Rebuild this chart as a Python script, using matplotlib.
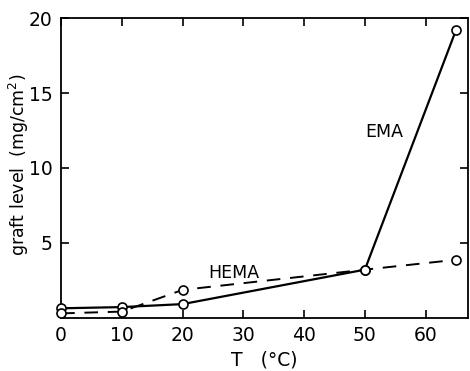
import matplotlib
matplotlib.use("Agg")
import matplotlib.pyplot as plt

# data
temp = [0, 10, 20, 50, 65]
ema = [0.62, 0.7, 0.9, 3.2, 19.2]
hema = [0.28, 0.4, 1.85, 3.2, 3.86]

x_ticks = [0, 10, 20, 30, 40, 50, 60]
y_ticks = [5, 10, 15, 20]

plt.rcParams['font.family'] = ['DejaVu Sans']

fig = plt.figure(figsize=(4.7, 3.71), dpi=100)
ax = fig.add_axes([0.13, 0.144, 0.866, 0.807])

ax.plot(temp, ema, color='black', lw=1.6, marker='o', ms=6.5,
        mfc='white', mec='black', mew=1.2, clip_on=False, zorder=3)
ax.plot(temp, hema, color='black', lw=1.4, ls=(0, (7, 5)), marker='o', ms=6.5,
        mfc='white', mec='black', mew=1.2, clip_on=False, zorder=3)

ax.text(53.2, 12.4, 'EMA', fontsize=12.5, ha='center', va='center')
ax.text(28.4, 3.0, 'HEMA', fontsize=12.5, ha='center', va='center')

ax.set_xlim(0, 67)
ax.set_ylim(0, 20)
ax.set_xticks(x_ticks)
ax.set_yticks(y_ticks)
ax.tick_params(direction='in', length=6, width=1.2, labelsize=13.5,
               top=True, right=True, pad=6)
for s in ax.spines.values():
    s.set_linewidth(1.3)

ax.set_xlabel('T   (°C)', fontsize=13.5, labelpad=4)
ax.set_ylabel('graft level  (mg/cm$^2$)', fontsize=12.5)
ax.yaxis.set_label_coords(-0.075, 0.51)

fig.savefig('out.png', dpi=100)
